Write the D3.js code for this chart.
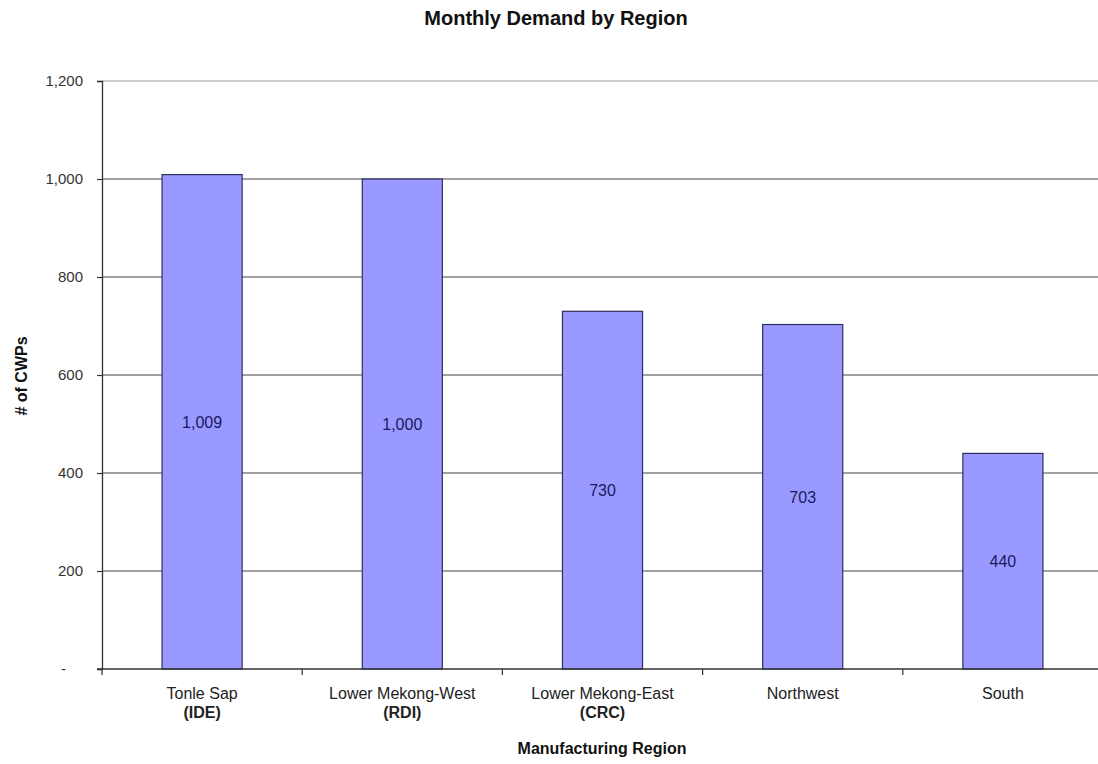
<!DOCTYPE html>
<html>
<head>
<meta charset="utf-8">
<script src="https://cdn.jsdelivr.net/npm/d3@7"></script>
<style>
  html, body { margin: 0; padding: 0; background: #fff; }
  svg { display: block; font-family: "Liberation Sans", Arial, sans-serif; }
</style>
</head>
<body>
<svg id="chart" width="1098" height="764"></svg>
<script>
// Monthly demand of CWPs per manufacturing region
const regions = ["Tonle Sap", "Lower Mekong-West", "Lower Mekong-East", "Northwest", "South"];
const producers = ["(IDE)", "(RDI)", "(CRC)", "", ""];
const demand = [1009, 1000, 730, 703, 440];
const yTicks = [0, 200, 400, 600, 800, 1000, 1200];

const svg = d3.select("#chart");
const plotLeft = 102, plotRight = 1103, plotTop = 81, plotBottom = 669;

const x = d3.scaleBand().domain(regions).range([plotLeft, plotRight]).padding(0);
const y = d3.scaleLinear().domain([0, 1200]).range([plotBottom, plotTop]);
const fmt = d3.format(",");

// Chart title, centred over the whole chart area
svg.append("text")
  .attr("x", 556).attr("y", 25)
  .attr("text-anchor", "middle")
  .attr("font-size", 20).attr("font-weight", "bold").attr("fill", "#111")
  .text("Monthly Demand by Region");

// Horizontal gridlines
svg.append("g")
  .selectAll("line")
  .data(yTicks.filter(d => d > 0))
  .join("line")
  .attr("x1", plotLeft).attr("x2", 1098)
  .attr("y1", d => y(d)).attr("y2", d => y(d))
  .attr("stroke", d => d === 1200 ? "#999" : "#444")
  .attr("stroke-width", 1.2);

// Bars
const barW = x.bandwidth() * 0.4;
svg.append("g")
  .selectAll("rect")
  .data(demand)
  .join("rect")
  .attr("x", (d, i) => x(regions[i]) + (x.bandwidth() - barW) / 2)
  .attr("y", d => y(d))
  .attr("width", barW)
  .attr("height", d => plotBottom - y(d))
  .attr("fill", "#9999ff")
  .attr("stroke", "#2e2e5e")
  .attr("stroke-width", 1.2);

// Value labels centred in each bar
svg.append("g")
  .selectAll("text")
  .data(demand)
  .join("text")
  .attr("x", (d, i) => x(regions[i]) + x.bandwidth() / 2)
  .attr("y", d => (y(d) + plotBottom) / 2 + 6)
  .attr("text-anchor", "middle")
  .attr("font-size", 16).attr("fill", "#1a1a5e")
  .text(d => fmt(d));

// Y axis
const yAxis = d3.axisLeft(y)
  .tickValues(yTicks)
  .tickSize(5)
  .tickPadding(14)
  .tickFormat(d => d === 0 ? "-" : fmt(d));
const gy = svg.append("g").attr("transform", `translate(${plotLeft},0)`).call(yAxis);
gy.select(".domain").attr("stroke", "#333").attr("stroke-width", 1.3);
gy.selectAll(".tick line").attr("stroke", "#333").attr("stroke-width", 1.2);
gy.selectAll(".tick text")
  .attr("font-size", 15).attr("fill", "#333")
  .attr("font-family", "Liberation Sans, Arial, sans-serif")
  .attr("dx", d => d === 0 ? -17 : 0);

// X axis: boundary ticks between categories
const xAxisG = svg.append("g");
xAxisG.append("line")
  .attr("x1", plotLeft - 5).attr("x2", 1098)
  .attr("y1", plotBottom).attr("y2", plotBottom)
  .attr("stroke", "#333").attr("stroke-width", 1.3);
xAxisG.selectAll("line.tick")
  .data(regions)
  .join("line")
  .attr("class", "tick")
  .attr("x1", d => x(d)).attr("x2", d => x(d))
  .attr("y1", plotBottom).attr("y2", plotBottom + 6)
  .attr("stroke", "#333").attr("stroke-width", 1.2);

// Category labels
const cat = svg.append("g")
  .selectAll("g")
  .data(regions)
  .join("g")
  .attr("transform", d => `translate(${x(d) + x.bandwidth() / 2},0)`);
cat.append("text")
  .attr("y", 699)
  .attr("text-anchor", "middle")
  .attr("font-size", 16).attr("fill", "#222")
  .text(d => d);
cat.append("text")
  .attr("y", 718)
  .attr("text-anchor", "middle")
  .attr("font-size", 16).attr("font-weight", "bold").attr("fill", "#222")
  .text((d, i) => producers[i]);

// Axis titles
svg.append("text")
  .attr("x", 602).attr("y", 754)
  .attr("text-anchor", "middle")
  .attr("font-size", 16).attr("font-weight", "bold").attr("fill", "#111")
  .text("Manufacturing Region");

svg.append("text")
  .attr("transform", "translate(27,376) rotate(-90)")
  .attr("text-anchor", "middle")
  .attr("font-size", 16).attr("font-weight", "bold").attr("fill", "#111")
  .text("# of CWPs");
</script>
</body>
</html>
